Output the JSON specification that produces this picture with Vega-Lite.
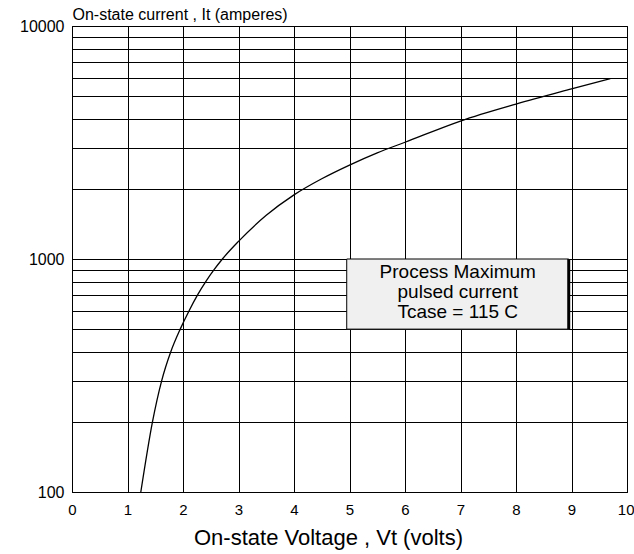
{
  "$schema": "https://vega.github.io/schema/vega-lite/v6.json",
  "width": 555,
  "height": 466,
  "autosize": {"type": "none"},
  "padding": {"left": 72, "top": 26, "right": 7, "bottom": 62},
  "background": "white",
  "config": {
    "view": {"stroke": "black", "strokeWidth": 1},
    "font": "Liberation Sans",
    "axis": {
      "domainColor": "black",
      "gridColor": "black",
      "gridOpacity": 1,
      "gridWidth": 1,
      "ticks": false,
      "labelColor": "black",
      "titleColor": "black",
      "labelFont": "Liberation Sans",
      "titleFont": "Liberation Sans",
      "titleFontWeight": "normal"
    }
  },
  "layer": [
    {
      "data": {
        "values": [
          {"voltage": 1.24, "current": 100},
          {"voltage": 1.45, "current": 200},
          {"voltage": 1.615, "current": 300},
          {"voltage": 1.78, "current": 400},
          {"voltage": 1.95, "current": 500},
          {"voltage": 2.11, "current": 600},
          {"voltage": 2.26, "current": 700},
          {"voltage": 2.41, "current": 800},
          {"voltage": 2.56, "current": 900},
          {"voltage": 2.71, "current": 1000},
          {"voltage": 3.0, "current": 1190},
          {"voltage": 3.5, "current": 1540},
          {"voltage": 4.0, "current": 1885},
          {"voltage": 4.5, "current": 2210},
          {"voltage": 5.0, "current": 2530},
          {"voltage": 5.5, "current": 2855},
          {"voltage": 6.0, "current": 3170},
          {"voltage": 7.0, "current": 3910},
          {"voltage": 8.0, "current": 4620},
          {"voltage": 9.0, "current": 5370},
          {"voltage": 9.7, "current": 5950}
        ]
      },
      "mark": {"type": "line", "color": "black", "strokeWidth": 1.3, "interpolate": "monotone"},
      "encoding": {
        "x": {
          "field": "voltage",
          "type": "quantitative",
          "scale": {"domain": [0, 10], "nice": false, "zero": false},
          "axis": {
            "values": [0, 1, 2, 3, 4, 5, 6, 7, 8, 9, 10],
            "grid": true,
            "labelFontSize": 15,
            "labelPadding": 10,
            "labelFlush": false,
            "labelAlign": {"condition": {"test": "datum.value == 10", "value": "right"}, "value": "center"},
            "labelOffset": {"condition": {"test": "datum.value == 10", "value": 7}, "value": 0},
            "title": "On-state Voltage , Vt (volts)",
            "titleFontSize": 22,
            "titlePadding": 10,
            "titleX": 256,
            "titleAlign": "center"
          }
        },
        "y": {
          "field": "current",
          "type": "quantitative",
          "scale": {"type": "log", "domain": [100, 10000], "nice": false},
          "axis": {
            "values": [100, 200, 300, 400, 500, 600, 700, 800, 900, 1000, 2000, 3000, 4000, 5000, 6000, 7000, 8000, 9000, 10000],
            "grid": true,
            "labelFontSize": 16,
            "labelPadding": 8,
            "labelExpr": "datum.value == 100 || datum.value == 1000 || datum.value == 10000 ? format(datum.value, 'd') : ''",
            "title": "On-state current , It (amperes)",
            "titleFontSize": 16,
            "titleAngle": 0,
            "titleAlign": "left",
            "titleBaseline": "middle",
            "titleX": 0,
            "titleY": -12
          }
        }
      }
    },
    {
      "data": {"values": [{"note": "Process Maximum pulsed current Tcase = 115 C"}]},
      "layer": [
        {
          "mark": {"type": "rect", "fill": "#f0f0f0", "stroke": "black", "strokeWidth": 1},
          "encoding": {
            "x": {"datum": 4.95, "type": "quantitative"},
            "x2": {"datum": 8.95},
            "y": {"datum": 1000, "type": "quantitative"},
            "y2": {"datum": 500}
          }
        },
        {
          "mark": {"type": "rule", "color": "black", "strokeWidth": 3},
          "encoding": {
            "x": {"datum": 8.95, "type": "quantitative"},
            "y": {"datum": 1000, "type": "quantitative"},
            "y2": {"datum": 500}
          }
        },
        {
          "mark": {
            "type": "text",
            "text": ["Process Maximum", "pulsed current", "Tcase = 115 C"],
            "fontSize": 19,
            "lineHeight": 20,
            "align": "center",
            "baseline": "middle",
            "color": "black",
            "font": "Liberation Sans"
          },
          "encoding": {
            "x": {"datum": 6.95, "type": "quantitative"},
            "y": {"datum": 880, "type": "quantitative"}
          }
        }
      ]
    }
  ]
}
